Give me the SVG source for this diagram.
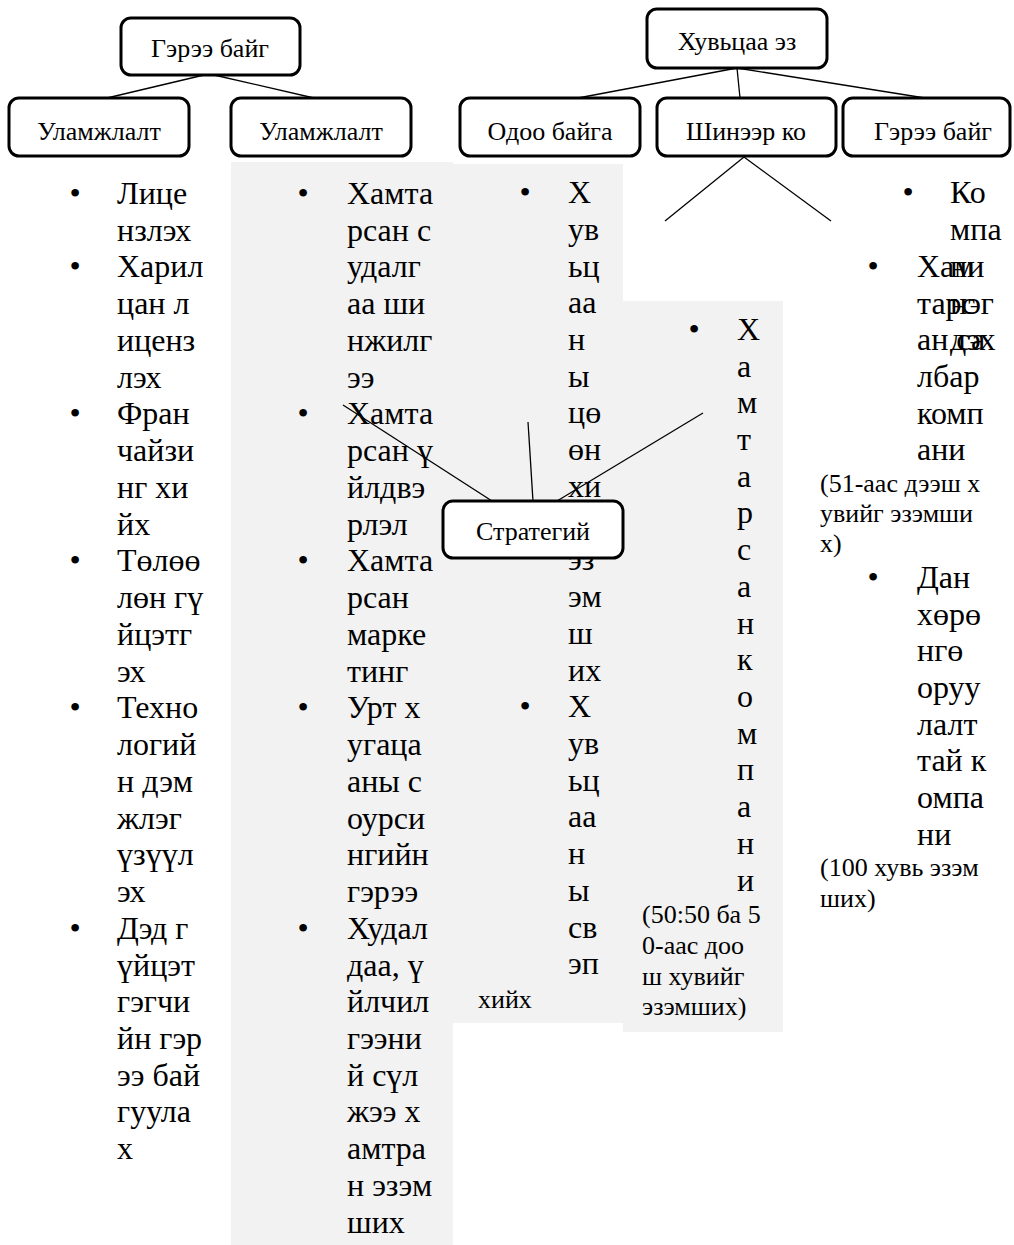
<svg xmlns="http://www.w3.org/2000/svg" width="1014" height="1245" viewBox="0 0 1014 1245">
<style>
.bg{fill:#f2f2f2}
.box{fill:#fff;stroke:#000;stroke-width:3}
.lbl{font-family:"Liberation Serif","Times New Roman",serif;font-size:26px;fill:#000;text-anchor:middle}
.t{font-family:"Liberation Serif","Times New Roman",serif;font-size:32px;fill:#000}
.s{font-family:"Liberation Serif","Times New Roman",serif;font-size:26px;fill:#000}
.b{font-family:"Liberation Serif","Times New Roman",serif;font-size:32px;fill:#000;text-anchor:middle}
.ln{stroke:#000;stroke-width:1.3;fill:none}
</style>
<rect x="0" y="0" width="1014" height="1245" fill="#fff"/>
<g id="backgrounds">
<rect class="bg" x="231" y="162" width="222" height="1083"/>
<rect class="bg" x="453" y="164" width="170" height="859"/>
<rect class="bg" x="623" y="301" width="160" height="731"/>
</g>
<g id="list-licensing">
<text class="b" x="75" y="204">•</text>
<text class="b" x="75" y="277">•</text>
<text class="b" x="75" y="424">•</text>
<text class="b" x="75" y="571">•</text>
<text class="b" x="75" y="718">•</text>
<text class="b" x="75" y="939">•</text>
<text class="t" x="117" y="204">Лице<tspan x="117" y="241">нзлэх</tspan><tspan x="117" y="277">Харил</tspan><tspan x="117" y="314">цан л</tspan><tspan x="117" y="351">иценз</tspan><tspan x="117" y="388">лэх</tspan><tspan x="117" y="424">Фран</tspan><tspan x="117" y="461">чайзи</tspan><tspan x="117" y="498">нг хи</tspan><tspan x="117" y="535">йх</tspan><tspan x="117" y="571">Төлөө</tspan><tspan x="117" y="608">лөн гү</tspan><tspan x="117" y="645">йцэтг</tspan><tspan x="117" y="682">эх</tspan><tspan x="117" y="718">Техно</tspan><tspan x="117" y="755">логий</tspan><tspan x="117" y="792">н дэм</tspan><tspan x="117" y="829">жлэг</tspan><tspan x="117" y="865">үзүүл</tspan><tspan x="117" y="902">эх</tspan><tspan x="117" y="939">Дэд г</tspan><tspan x="117" y="976">үйцэт</tspan><tspan x="117" y="1012">гэгчи</tspan><tspan x="117" y="1049">йн гэр</tspan><tspan x="117" y="1086">ээ бай</tspan><tspan x="117" y="1122">гуула</tspan><tspan x="117" y="1159">х</tspan></text>
</g>
<g id="list-cooperation">
<text class="b" x="303" y="204">•</text>
<text class="b" x="303" y="424">•</text>
<text class="b" x="303" y="571">•</text>
<text class="b" x="303" y="718">•</text>
<text class="b" x="303" y="939">•</text>
<text class="t" x="347" y="204">Хамта<tspan x="347" y="241">рсан с</tspan><tspan x="347" y="277">удалг</tspan><tspan x="347" y="314">аа ши</tspan><tspan x="347" y="351">нжилг</tspan><tspan x="347" y="388">ээ</tspan><tspan x="347" y="424">Хамта</tspan><tspan x="347" y="461">рсан ү</tspan><tspan x="347" y="498">йлдвэ</tspan><tspan x="347" y="535">рлэл</tspan><tspan x="347" y="571">Хамта</tspan><tspan x="347" y="608">рсан</tspan><tspan x="347" y="645">марке</tspan><tspan x="347" y="682">тинг</tspan><tspan x="347" y="718">Урт х</tspan><tspan x="347" y="755">угаца</tspan><tspan x="347" y="792">аны с</tspan><tspan x="347" y="829">оурси</tspan><tspan x="347" y="865">нгийн</tspan><tspan x="347" y="902">гэрээ</tspan><tspan x="347" y="939">Худал</tspan><tspan x="347" y="976">даа, ү</tspan><tspan x="347" y="1012">йлчил</tspan><tspan x="347" y="1049">гээни</tspan><tspan x="347" y="1086">й сүл</tspan><tspan x="347" y="1122">жээ х</tspan><tspan x="347" y="1159">амтра</tspan><tspan x="347" y="1196">н эзэм</tspan><tspan x="347" y="1233">ших</tspan></text>
</g>
<g id="list-existing">
<text class="b" x="525" y="203">•</text>
<text class="b" x="525" y="717">•</text>
<text class="t" x="568" y="203">Х<tspan x="568" y="240">ув</tspan><tspan x="568" y="277">ьц</tspan><tspan x="568" y="313">аа</tspan><tspan x="568" y="350">н</tspan><tspan x="568" y="387">ы</tspan><tspan x="568" y="423">цө</tspan><tspan x="568" y="460">өн</tspan><tspan x="568" y="497">хи</tspan><tspan x="568" y="570">эз</tspan><tspan x="568" y="607">эм</tspan><tspan x="568" y="644">ш</tspan><tspan x="568" y="681">их</tspan><tspan x="568" y="717">Х</tspan><tspan x="568" y="754">ув</tspan><tspan x="568" y="791">ьц</tspan><tspan x="568" y="827">аа</tspan><tspan x="568" y="864">н</tspan><tspan x="568" y="901">ы</tspan><tspan x="568" y="938">св</tspan><tspan x="568" y="974">эп</tspan></text>
<text class="s" x="478" y="1008">хийх</text>
</g>
<g id="list-joint">
<text class="b" x="694" y="340">•</text>
<text class="t" x="737" y="340">Х<tspan x="737" y="377">а</tspan><tspan x="737" y="413">м</tspan><tspan x="737" y="450">т</tspan><tspan x="737" y="487">а</tspan><tspan x="737" y="523">р</tspan><tspan x="737" y="560">с</tspan><tspan x="737" y="597">а</tspan><tspan x="737" y="634">н</tspan><tspan x="737" y="670">к</tspan><tspan x="737" y="707">о</tspan><tspan x="737" y="744">м</tspan><tspan x="737" y="780">п</tspan><tspan x="737" y="817">а</tspan><tspan x="737" y="854">н</tspan><tspan x="737" y="891">и</tspan></text>
<text class="s" x="642" y="923">(50:50 ба 5<tspan x="642" y="954">0-аас доо</tspan><tspan x="642" y="985">ш хувийг</tspan><tspan x="642" y="1015">эзэмших)</tspan></text>
</g>
<g id="list-contract">
<text class="b" x="908" y="203">•</text>
<text class="t" x="950" y="203">Ко<tspan x="950" y="240">мпа</tspan><tspan x="950" y="277">ни</tspan><tspan x="950" y="314">нэг</tspan><tspan x="950" y="350">дэх</tspan></text>
<text class="b" x="873" y="277">•</text>
<text class="t" x="917" y="277">Хам<tspan x="917" y="314">тарс</tspan><tspan x="917" y="350">ан са</tspan><tspan x="917" y="387">лбар</tspan><tspan x="917" y="424">комп</tspan><tspan x="917" y="460">ани</tspan></text>
<text class="s" x="820" y="492">(51-аас дээш х<tspan x="820" y="522">увийг эзэмши</tspan><tspan x="820" y="552">х)</tspan></text>
<text class="b" x="873" y="588">•</text>
<text class="t" x="917" y="588">Дан<tspan x="917" y="625">хөрө</tspan><tspan x="917" y="661">нгө</tspan><tspan x="917" y="698">оруу</tspan><tspan x="917" y="735">лалт</tspan><tspan x="917" y="771">тай к</tspan><tspan x="917" y="808">омпа</tspan><tspan x="917" y="845">ни</tspan></text>
<text class="s" x="820" y="876">(100 хувь эзэм<tspan x="820" y="907">ших)</tspan></text>
</g>
<g id="connectors">
<line class="ln" x1="204" y1="75" x2="107" y2="98"/>
<line class="ln" x1="214" y1="75" x2="314" y2="98"/>
<line class="ln" x1="737" y1="68" x2="578" y2="98"/>
<line class="ln" x1="737" y1="68" x2="740" y2="98"/>
<line class="ln" x1="737" y1="68" x2="925" y2="98"/>
<line class="ln" x1="744" y1="157" x2="665" y2="221"/>
<line class="ln" x1="744" y1="157" x2="831" y2="221"/>
<line class="ln" x1="343" y1="405" x2="492" y2="501"/>
<line class="ln" x1="528" y1="422" x2="533" y2="501"/>
<line class="ln" x1="703" y1="413" x2="557" y2="501"/>
</g>
<g id="node-contract-top">
<rect class="box" x="121" y="18" width="179" height="57" rx="10"/>
<text class="lbl" x="210" y="57">Гэрээ байг</text>
</g>
<g id="node-traditional-1">
<rect class="box" x="9" y="98" width="180" height="58" rx="10"/>
<text class="lbl" x="99" y="140">Уламжлалт</text>
</g>
<g id="node-traditional-2">
<rect class="box" x="231" y="98" width="180" height="58" rx="10"/>
<text class="lbl" x="321" y="140">Уламжлалт</text>
</g>
<g id="node-share">
<rect class="box" x="647" y="9" width="180" height="59" rx="10"/>
<text class="lbl" x="737" y="50">Хувьцаа эз</text>
</g>
<g id="node-existing">
<rect class="box" x="460" y="98" width="180" height="58" rx="10"/>
<text class="lbl" x="550" y="140">Одоо байга</text>
</g>
<g id="node-new">
<rect class="box" x="657" y="98" width="179" height="58" rx="10"/>
<text class="lbl" x="746" y="140">Шинээр ко</text>
</g>
<g id="node-contract-right">
<rect class="box" x="843" y="98" width="167" height="58" rx="10"/>
<text class="lbl" x="933" y="140">Гэрээ байг</text>
</g>
<g id="node-strategy">
<rect class="box" x="443" y="501" width="180" height="57" rx="10"/>
<text class="lbl" x="533" y="540">Стратегий</text>
</g>
</svg>
